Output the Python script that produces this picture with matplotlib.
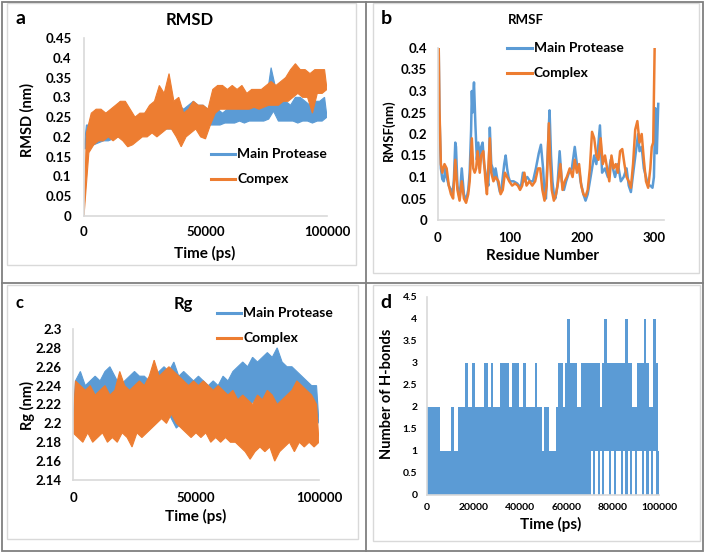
import numpy as np
import matplotlib
matplotlib.use("Agg")
import matplotlib.pyplot as plt
from matplotlib.lines import Line2D
from matplotlib.patches import Rectangle

plt.rcParams["font.family"] = ["Lato", "DejaVu Sans"]
plt.rcParams["font.weight"] = "bold"

BLUE = "#5B9BD5"
ORANGE = "#ED7D31"
AXIS_GREY = "#d9d9d9"

# ------------------------------------------------------------
# data
# ------------------------------------------------------------
# noisy trajectories: lower envelope at 0, 2000, ... 100000 ps,
# upper envelope at 1000, 3000, ... 99000 ps
t_lo = np.arange(0, 100001, 2000)
t_hi = np.arange(1000, 100000, 2000)

rmsd_mp_lo = [0.17, 0.17, 0.18, 0.185, 0.19, 0.19, 0.195, 0.20, 0.20, 0.20,
              0.20, 0.205, 0.21, 0.21, 0.215, 0.215, 0.22, 0.22, 0.22, 0.225,
              0.22, 0.225, 0.225, 0.23, 0.23, 0.23, 0.23, 0.23, 0.23, 0.235,
              0.235, 0.235, 0.24, 0.235, 0.24, 0.24, 0.24, 0.24, 0.245, 0.265,
              0.24, 0.24, 0.24, 0.24, 0.235, 0.24, 0.24, 0.235, 0.24, 0.24, 0.25]
rmsd_mp_hi = [0.23, 0.23, 0.24, 0.25, 0.26, 0.26, 0.27, 0.29, 0.26, 0.25,
              0.25, 0.25, 0.26, 0.26, 0.27, 0.27, 0.27, 0.28, 0.27, 0.28,
              0.27, 0.28, 0.29, 0.28, 0.28, 0.27, 0.27, 0.27, 0.26, 0.27,
              0.27, 0.27, 0.28, 0.27, 0.28, 0.28, 0.28, 0.29, 0.375, 0.32,
              0.29, 0.29, 0.28, 0.30, 0.30, 0.29, 0.28, 0.29, 0.29, 0.30]
rmsd_cx_lo = [0.00, 0.16, 0.18, 0.19, 0.19, 0.20, 0.19, 0.20, 0.19, 0.175,
              0.18, 0.19, 0.20, 0.20, 0.21, 0.20, 0.21, 0.22, 0.22, 0.20,
              0.175, 0.20, 0.21, 0.22, 0.20, 0.195, 0.23, 0.26, 0.27, 0.27,
              0.27, 0.27, 0.27, 0.27, 0.27, 0.275, 0.27, 0.275, 0.28, 0.28,
              0.28, 0.29, 0.29, 0.30, 0.31, 0.30, 0.30, 0.26, 0.31, 0.31, 0.32]
rmsd_cx_hi = [0.21, 0.26, 0.27, 0.27, 0.26, 0.27, 0.28, 0.29, 0.29, 0.27,
              0.25, 0.26, 0.26, 0.28, 0.29, 0.33, 0.31, 0.36, 0.29, 0.30,
              0.26, 0.27, 0.29, 0.28, 0.28, 0.27, 0.32, 0.33, 0.33, 0.32,
              0.33, 0.32, 0.33, 0.31, 0.32, 0.32, 0.32, 0.33, 0.34, 0.33,
              0.34, 0.35, 0.37, 0.385, 0.37, 0.37, 0.36, 0.37, 0.37, 0.37]

rmsf_mp_res = [1, 2, 4, 6, 8, 10, 12, 15, 18, 20,
               22, 24, 25, 27, 30, 33, 36, 39, 42, 44,
               46, 47, 48, 49, 50, 52, 54, 56, 58, 60,
               62, 64, 67, 70, 72, 74, 76, 78, 80, 83,
               86, 88, 90, 92, 94, 96, 98, 100, 105, 110,
               115, 118, 120, 124, 128, 132, 136, 140, 143, 146,
               148, 150, 153, 155, 157, 159, 161, 163, 166, 169,
               172, 175, 178, 182, 186, 190, 193, 196, 198, 202,
               205, 208, 212, 214, 217, 220, 222, 225, 228, 232,
               236, 240, 243, 246, 250, 254, 258, 262, 265, 268,
               272, 275, 278, 280, 283, 286, 289, 292, 295, 298,
               300, 302, 303, 304, 306]
rmsf_mp = [0.40, 0.25, 0.12, 0.095, 0.09, 0.12, 0.10, 0.08, 0.07, 0.06,
           0.09, 0.18, 0.17, 0.08, 0.05, 0.12, 0.06, 0.045, 0.07, 0.11,
           0.21, 0.30, 0.25, 0.29, 0.32, 0.22, 0.14, 0.18, 0.14, 0.17,
           0.18, 0.13, 0.10, 0.08, 0.215, 0.13, 0.12, 0.10, 0.12, 0.09,
           0.065, 0.07, 0.10, 0.13, 0.15, 0.12, 0.10, 0.09, 0.09, 0.085,
           0.075, 0.11, 0.09, 0.10, 0.09, 0.09, 0.12, 0.155, 0.175, 0.12,
           0.06, 0.05, 0.18, 0.255, 0.15, 0.09, 0.06, 0.05, 0.08, 0.16,
           0.09, 0.07, 0.09, 0.11, 0.12, 0.17, 0.13, 0.12, 0.09, 0.06,
           0.045, 0.06, 0.10, 0.12, 0.15, 0.13, 0.16, 0.22, 0.11, 0.12,
           0.10, 0.14, 0.12, 0.10, 0.13, 0.09, 0.10, 0.12, 0.08, 0.065,
           0.12, 0.16, 0.20, 0.16, 0.17, 0.12, 0.10, 0.08, 0.08, 0.075,
           0.10, 0.26, 0.18, 0.155, 0.27]
rmsf_cx_res = [1, 2, 4, 6, 9, 12, 15, 18, 21, 24,
               27, 30, 33, 36, 39, 42, 44, 47, 49, 51,
               53, 55, 58, 60, 63, 66, 68, 72, 74, 77,
               80, 84, 87, 90, 93, 96, 99, 103, 107, 111,
               114, 117, 120, 123, 127, 131, 135, 139, 142, 145,
               148, 151, 154, 156, 158, 161, 164, 167, 170, 173,
               176, 179, 183, 187, 190, 193, 196, 199, 202, 205,
               208, 211, 214, 217, 220, 223, 226, 229, 232, 235,
               238, 241, 244, 247, 250, 253, 256, 259, 262, 265,
               268, 271, 274, 277, 280, 283, 286, 289, 292, 295,
               297, 299, 301]
rmsf_cx = [0.40, 0.26, 0.13, 0.11, 0.13, 0.12, 0.08, 0.06, 0.05, 0.14,
           0.07, 0.045, 0.09, 0.05, 0.04, 0.06, 0.09, 0.19, 0.12, 0.11,
           0.12, 0.16, 0.11, 0.15, 0.16, 0.09, 0.06, 0.19, 0.11, 0.09,
           0.10, 0.09, 0.06, 0.07, 0.11, 0.10, 0.09, 0.08, 0.085, 0.08,
           0.07, 0.08, 0.11, 0.08, 0.09, 0.08, 0.09, 0.12, 0.12, 0.07,
           0.045, 0.08, 0.225, 0.13, 0.07, 0.045, 0.06, 0.09, 0.13, 0.07,
           0.09, 0.10, 0.12, 0.10, 0.14, 0.11, 0.13, 0.08, 0.06, 0.055,
           0.07, 0.12, 0.205, 0.19, 0.15, 0.14, 0.19, 0.13, 0.15, 0.12,
           0.09, 0.15, 0.12, 0.13, 0.11, 0.16, 0.165, 0.13, 0.10, 0.09,
           0.075, 0.13, 0.21, 0.23, 0.18, 0.20, 0.14, 0.09, 0.075, 0.12,
           0.17, 0.18, 0.40]

rg_mp_lo = [2.20, 2.195, 2.19, 2.20, 2.195, 2.20, 2.19, 2.20, 2.195, 2.19,
            2.195, 2.19, 2.195, 2.19, 2.20, 2.195, 2.20, 2.205, 2.21, 2.215,
            2.205, 2.195, 2.20, 2.195, 2.20, 2.19, 2.20, 2.205, 2.20, 2.195,
            2.20, 2.21, 2.215, 2.22, 2.22, 2.215, 2.22, 2.225, 2.225, 2.22,
            2.215, 2.205, 2.215, 2.22, 2.215, 2.21, 2.22, 2.215, 2.21, 2.215, 2.20]
rg_mp_hi = [2.245, 2.255, 2.24, 2.245, 2.25, 2.245, 2.255, 2.26, 2.25, 2.24,
            2.245, 2.25, 2.255, 2.25, 2.25, 2.245, 2.25, 2.255, 2.26, 2.255,
            2.265, 2.25, 2.255, 2.25, 2.245, 2.25, 2.245, 2.24, 2.245, 2.24,
            2.25, 2.245, 2.255, 2.26, 2.265, 2.26, 2.27, 2.265, 2.27, 2.275,
            2.27, 2.28, 2.265, 2.26, 2.26, 2.255, 2.25, 2.245, 2.24, 2.24]
rg_cx_lo = [2.19, 2.185, 2.18, 2.19, 2.18, 2.185, 2.19, 2.18, 2.185, 2.18,
            2.19, 2.185, 2.175, 2.19, 2.185, 2.19, 2.195, 2.20, 2.205, 2.20,
            2.21, 2.20, 2.195, 2.19, 2.185, 2.19, 2.185, 2.19, 2.18, 2.185,
            2.18, 2.185, 2.18, 2.18, 2.175, 2.17, 2.162, 2.17, 2.175, 2.17,
            2.175, 2.16, 2.17, 2.175, 2.18, 2.17, 2.18, 2.175, 2.18, 2.175, 2.18]
rg_cx_hi = [2.245, 2.24, 2.235, 2.24, 2.23, 2.235, 2.24, 2.23, 2.235, 2.255,
            2.24, 2.235, 2.24, 2.245, 2.24, 2.25, 2.267, 2.25, 2.255, 2.26,
            2.255, 2.25, 2.245, 2.24, 2.245, 2.24, 2.245, 2.24, 2.235, 2.24,
            2.235, 2.23, 2.235, 2.225, 2.23, 2.225, 2.22, 2.23, 2.225, 2.235,
            2.23, 2.22, 2.225, 2.23, 2.235, 2.245, 2.24, 2.235, 2.23, 2.22]

# hydrogen bonds, max / min count in each 1000 ps window
hb_time = np.arange(0, 100001, 1000)
hb_max = [2, 2, 2, 2, 2, 2, 1, 1, 1, 1,
          1, 2, 1, 1, 2, 2, 2, 3, 2, 2,
          3, 2, 2, 2, 2, 3, 3, 2, 3, 2,
          2, 2, 3, 3, 3, 3, 2, 3, 3, 3,
          2, 2, 3, 2, 2, 2, 2, 3, 2, 2,
          1, 2, 2, 1, 1, 1, 2, 3, 3, 2,
          3, 4, 3, 3, 3, 2, 2, 3, 3, 3,
          3, 3, 3, 3, 3, 2, 3, 4, 3, 3,
          3, 3, 3, 3, 3, 3, 4, 3, 3, 2,
          2, 3, 3, 3, 4, 3, 2, 2, 4, 3, 1]
hb_min = [0, 0, 0, 0, 0, 0, 0, 0, 0, 0,
          0, 0, 0, 0, 0, 0, 0, 0, 0, 0,
          0, 0, 0, 0, 0, 0, 0, 0, 0, 0,
          0, 0, 0, 0, 0, 0, 0, 0, 0, 0,
          0, 0, 0, 0, 0, 0, 0, 0, 0, 0,
          0, 0, 0, 0, 0, 0, 0, 0, 0, 0,
          0, 0, 0, 0, 0, 0, 0, 0, 0, 0,
          0, 1, 0, 1, 0, 1, 0, 1, 1, 0,
          1, 0, 1, 1, 0, 1, 0, 1, 0, 1,
          0, 1, 1, 0, 1, 0, 1, 0, 1, 0, 0]


def band(ax, lo, hi, color):
    """dense trajectory drawn as the area between its lower and upper envelope"""
    x = np.concatenate([t_lo, t_hi[::-1]])
    y = np.concatenate([lo, hi[::-1]])
    ax.fill(x, y, color=color, ec=color, lw=0.8)


# ------------------------------------------------------------
# figure, pixel helpers
# ------------------------------------------------------------
W, H = 704, 552
fig = plt.figure(figsize=(W / 100, H / 100), dpi=100)


def fx(x):
    return x / W


def fy(y):
    return 1 - y / H


def make_ax(l, t, r, b):
    ax = fig.add_axes([fx(l), fy(b), (r - l) / W, (b - t) / H])
    for s in ("top", "right"):
        ax.spines[s].set_visible(False)
    for s in ("left", "bottom"):
        ax.spines[s].set_color(AXIS_GREY)
        ax.spines[s].set_linewidth(1.2)
    ax.tick_params(length=0)
    return ax


def ftext(x, y, s, size, **kw):
    fig.text(fx(x), fy(y), s, fontsize=size, fontweight="bold",
             ha=kw.pop("ha", "center"), va=kw.pop("va", "center"), **kw)


def legend(x0, x1, xt, y1, y2, label2):
    for y, c, s in ((y1, BLUE, "Main Protease"), (y2, ORANGE, label2)):
        fig.add_artist(Line2D([fx(x0), fx(x1)], [fy(y), fy(y)], color=c,
                              lw=2.2, transform=fig.transFigure))
        ftext(xt, y, s, 10, ha="left")


# frames
for (x, y, w, h) in [(7, 3, 349, 262), (373, 3, 326, 270),
                     (7, 285, 351, 254), (373, 285, 327, 256)]:
    fig.add_artist(Rectangle((fx(x), fy(y + h)), w / W, h / H, fill=False,
                             ec=AXIS_GREY, lw=1, transform=fig.transFigure))
fig.add_artist(Rectangle((fx(1.5), fy(550.5)), 701 / W, 549 / H, fill=False,
                         ec="#7f7f7f", lw=1.3, transform=fig.transFigure))
fig.add_artist(Line2D([fx(1.5), fx(702.5)], [fy(283), fy(283)], color="#7f7f7f",
                      lw=1.3, transform=fig.transFigure))
fig.add_artist(Line2D([fx(366), fx(366)], [fy(1.5), fy(550.5)], color="#7f7f7f",
                      lw=1.3, transform=fig.transFigure))

# ------------------------------------------------------------
# a) RMSD
# ------------------------------------------------------------
ax = make_ax(84, 38, 327, 216)
band(ax, rmsd_mp_lo, rmsd_mp_hi, BLUE)
band(ax, rmsd_cx_lo, rmsd_cx_hi, ORANGE)
ax.set_xlim(0, 100000)
ax.set_ylim(0, 0.45)
ax.set_xticks([0, 50000, 100000])
ax.set_yticks(np.arange(0, 0.451, 0.05))
ax.set_yticklabels(["0", "0.05", "0.1", "0.15", "0.2", "0.25", "0.3", "0.35", "0.4", "0.45"])
ax.tick_params(axis="y", labelsize=9.5, pad=9)
ax.tick_params(axis="x", labelsize=9.5, pad=7)
ftext(21, 18, "a", 14)
ftext(190, 20, "RMSD", 12)
ftext(27, 120, "RMSD (nm)", 10.5, rotation=90)
ftext(205, 253, "Time (ps)", 11)
legend(211, 235, 237, 154, 179, "Compex")

# ------------------------------------------------------------
# b) RMSF
# ------------------------------------------------------------
ax = make_ax(438, 48, 664, 220)
ax.plot(rmsf_mp_res, rmsf_mp, color=BLUE, lw=1.8)
ax.plot(rmsf_cx_res, rmsf_cx, color=ORANGE, lw=1.8)
ax.set_xlim(0, 314)
ax.set_ylim(0, 0.4)
ax.set_xticks([0, 100, 200, 300])
ax.set_yticks(np.arange(0, 0.401, 0.05))
ax.set_yticklabels(["0", "0.05", "0.1", "0.15", "0.2", "0.25", "0.3", "0.35", "0.4"])
ax.tick_params(axis="y", labelsize=9.5, pad=8)
ax.tick_params(axis="x", labelsize=9.5, pad=8.5)
ftext(386, 18, "b", 14)
ftext(526, 20, "RMSF", 9.5)
ftext(389, 130, "RMSF(nm)", 9.5, rotation=90)
ftext(543, 256, "Residue Number", 11)
legend(507, 532, 534, 48, 73, "Complex")

# ------------------------------------------------------------
# c) Rg
# ------------------------------------------------------------
ax = make_ax(73, 329, 319, 480)
band(ax, rg_mp_lo, rg_mp_hi, BLUE)
band(ax, rg_cx_lo, rg_cx_hi, ORANGE)
ax.set_xlim(0, 100000)
ax.set_ylim(2.14, 2.30)
ax.set_xticks([0, 50000, 100000])
ax.set_yticks(np.arange(2.14, 2.301, 0.02))
ax.set_yticklabels(["2.14", "2.16", "2.18", "2.2", "2.22", "2.24", "2.26", "2.28", "2.3"])
ax.tick_params(axis="y", labelsize=9.5, pad=8)
ax.tick_params(axis="x", labelsize=9.5, pad=8.5)
ftext(20, 303, "c", 12)
ftext(183, 304, "Rg", 12)
ftext(27, 406, "Rg (nm)", 10.5, rotation=90)
ftext(196, 516, "Time (ps)", 11)
legend(217, 241, 243, 313, 338, "Complex")

# ------------------------------------------------------------
# d) H-bonds
# ------------------------------------------------------------
ax = make_ax(427, 297, 659, 495)
ax.fill_between(hb_time, hb_min, hb_max, step="mid", color=BLUE, lw=0)
ax.set_xlim(0, 100000)
ax.set_ylim(0, 4.5)
ax.set_xticks(np.arange(0, 100001, 20000))
ax.set_yticks(np.arange(0, 4.51, 0.5))
ax.set_yticklabels(["0", "0.5", "1", "1.5", "2", "2.5", "3", "3.5", "4", "4.5"])
ax.tick_params(axis="y", labelsize=7.5, pad=7)
ax.tick_params(axis="x", labelsize=7.5, pad=6)
ftext(386, 303, "d", 14)
ftext(387, 394, "Number of H-bonds", 10.5, rotation=90)
ftext(551, 524, "Time (ps)", 11)

fig.savefig("out.png", dpi=100)
